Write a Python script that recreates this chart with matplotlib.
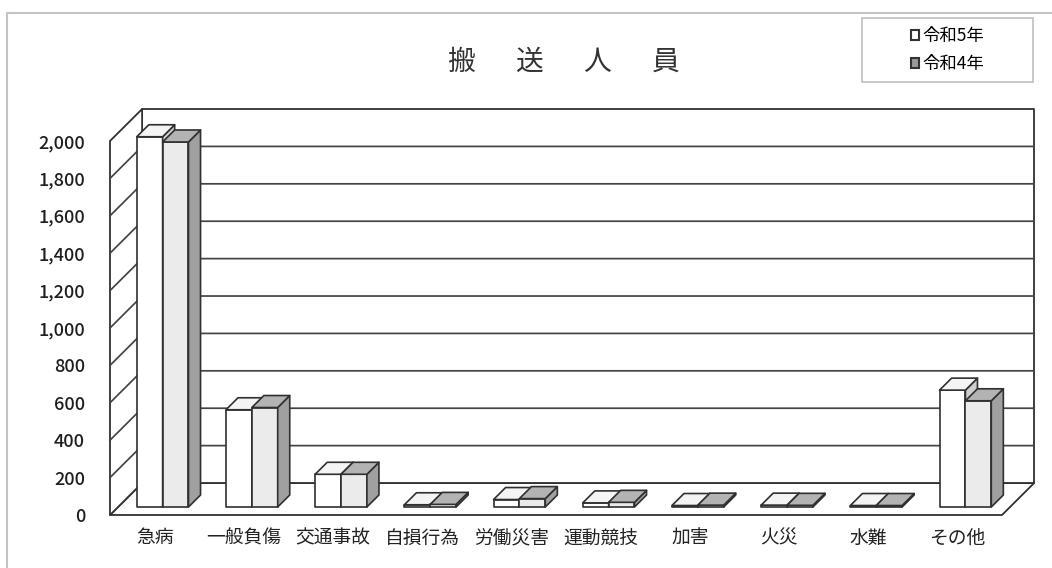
import matplotlib
matplotlib.use("Agg")
import matplotlib.pyplot as plt
from matplotlib.patches import Polygon, Rectangle, Patch
from matplotlib.lines import Line2D

# data
categories = ['急病', '一般負傷', '交通事故', '自損行為', '労働災害',
              '運動競技', '加害', '火災', '水難', 'その他']
r5 = [1980, 520, 175, 12, 40, 22, 8, 10, 8, 625]
r4 = [1952, 532, 175, 14, 45, 25, 10, 9, 8, 568]
series = ['令和5年', '令和4年']
yticks = list(range(0, 2001, 200))
title = '搬　  送　  人　  員'

plt.rcParams['font.family'] = ['Noto Sans CJK JP', 'DejaVu Sans']

W, H = 1052, 568
fig = plt.figure(figsize=(W / 100, H / 100), dpi=100)
ax = fig.add_axes([110 / W, 1 - 515 / H, 892 / W, 374 / H])
n = len(categories)
ymax = yticks[-1]
ax.set_xlim(0, n)
ax.set_ylim(0, ymax)

# oblique depth of the floor, in data units
DX = 0.36
DY = 171
EC = '#303030'
GRID = '#444444'


def face(pts, fc, z, lw=1.2):
    ax.add_patch(Polygon(pts, closed=True, facecolor=fc, edgecolor=EC, lw=lw,
                         zorder=z, clip_on=False, joinstyle='round'))


# walls and floor
face([(0, 0), (n, 0), (n + DX, DY), (DX, DY)], 'white', 0, 1.3)
face([(DX, DY), (n + DX, DY), (n + DX, ymax + DY), (DX, ymax + DY)], 'white', 0, 1.3)
face([(0, 0), (DX, DY), (DX, ymax + DY), (0, ymax)], 'white', 0, 1.3)
for v in yticks[1:-1]:
    ax.plot([0, DX, n + DX], [v, v + DY, v + DY], color=GRID, lw=1.25,
            zorder=1, clip_on=False)

# bars
bw = 0.29      # width of one bar
d0 = 0.25      # depth where the bar front sits
bd = 0.375     # bar depth
styles = [('white', '#f4f4f4', '#cfcfcf'),
          ('#ebebeb', '#b3b3b3', '#a0a0a0')]


def bar3d(x0, v, fc_front, fc_top, fc_side):
    y0 = d0 * DY
    ex, ey = bd * DX, bd * DY
    face([(x0, y0), (x0 + bw, y0), (x0 + bw, y0 + v), (x0, y0 + v)], fc_front, 3)
    face([(x0 + bw, y0), (x0 + bw + ex, y0 + ey), (x0 + bw + ex, y0 + v + ey),
          (x0 + bw, y0 + v)], fc_side, 3)
    face([(x0, y0 + v), (x0 + bw, y0 + v), (x0 + bw + ex, y0 + v + ey),
          (x0 + ex, y0 + v + ey)], fc_top, 3)


for i in range(n):
    xc = i + 0.5 + d0 * DX
    for j, vals in enumerate([r5, r4]):
        bar3d(xc - bw + j * bw, vals[i], *styles[j])

# axes text
ax.set_yticks(yticks)
ax.set_yticklabels([f'{v:,}' for v in yticks], fontweight='medium')
ax.set_xticks([i + 0.5 for i in range(n)])
ax.set_xticklabels(categories)
ax.tick_params(axis='y', length=0, pad=18, labelsize=13, labelcolor='#1e1e1e')
ax.tick_params(axis='x', length=0, pad=9, labelsize=13.5, labelcolor='#222222')
for s in ax.spines.values():
    s.set_visible(False)
ax.patch.set_visible(False)

fig.text(564 / W, 1 - 62 / H, title, ha='center', va='center',
         fontsize=20, color='#333333')

# legend
handles = [Patch(facecolor='white', edgecolor='#333333', lw=1.5),
           Patch(facecolor='#9a9a9a', edgecolor='#333333', lw=1.5)]
fig.legend(handles, series, loc='center', bbox_to_anchor=(947.5 / W, 1 - 50 / H),
           frameon=False, fontsize=12.5, handlelength=0.5, handleheight=0.5,
           handletextpad=0.2, labelspacing=0.55, borderpad=0)
fig.patches.append(Rectangle((862 / W, 1 - 82 / H), 171 / W, 64 / H,
                             transform=fig.transFigure, fill=False,
                             edgecolor='#c0c0c0', lw=1.2))

# outer frame (top and left edges visible in the scan)
fig.add_artist(Line2D([7 / W, 7 / W, 1], [0, 1 - 13 / H, 1 - 13 / H],
                      transform=fig.transFigure, color='#c4c4c4', lw=1.5))

fig.savefig('out.png', dpi=100)
